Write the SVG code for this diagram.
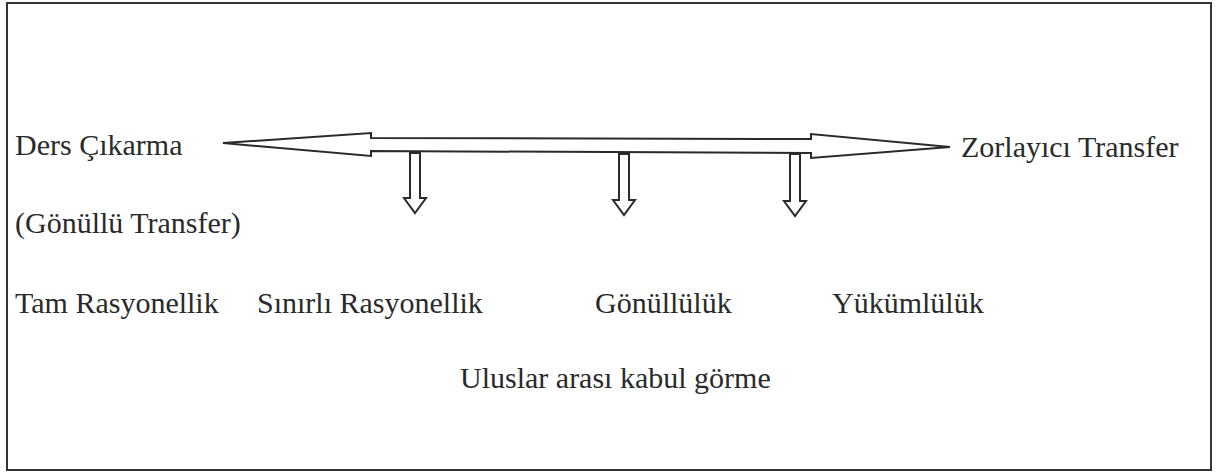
<svg xmlns="http://www.w3.org/2000/svg" width="1230" height="474" viewBox="0 0 1230 474">
  <style>
    .lbl { font-family: "Liberation Serif", "Times New Roman", Tinos, "DejaVu Serif", serif; font-size: 30px; fill: #2a2a2a; }
    .shape { fill: #ffffff; stroke: #2a2a2a; stroke-width: 2; stroke-linejoin: miter; }
  </style>
  <rect x="0" y="0" width="1230" height="474" fill="#ffffff"/>
  <!-- outer frame -->
  <rect x="7" y="3" width="1204" height="467" fill="none" stroke="#333333" stroke-width="2"/>

  <g id="connectors">
    <!-- double-headed spectrum arrow -->
    <polygon class="shape" points="223,143 371,133 371,138 811,139 811,134 950,147 811,158 811,153 371,151 371,156"/>
    <!-- hollow down arrows -->
    <polygon class="shape" points="410,153 420,153 420,198 426,198 415,213 404,198 410,198"/>
    <polygon class="shape" points="619,154 629,154 629,200 635,200 624,215 613,200 619,200"/>
    <polygon class="shape" points="790,154 800,154 800,201 806,201 795,216 784,201 790,201"/>
  </g>

  <g id="ders-cikarma"><text class="lbl" font-family="Liberation Serif, serif" x="15" y="155">Ders Çıkarma</text></g>
  <g id="zorlayici-transfer"><text class="lbl" font-family="Liberation Serif, serif" x="961" y="157">Zorlayıcı Transfer</text></g>
  <g id="gonullu-transfer"><text class="lbl" font-family="Liberation Serif, serif" x="15" y="233">(Gönüllü Transfer)</text></g>
  <g id="tam-rasyonellik"><text class="lbl" font-family="Liberation Serif, serif" x="15" y="313">Tam Rasyonellik</text></g>
  <g id="sinirli-rasyonellik"><text class="lbl" font-family="Liberation Serif, serif" x="257" y="313">Sınırlı Rasyonellik</text></g>
  <g id="gonulluluk"><text class="lbl" font-family="Liberation Serif, serif" x="595" y="313">Gönüllülük</text></g>
  <g id="yukumluluk"><text class="lbl" font-family="Liberation Serif, serif" x="832" y="313">Yükümlülük</text></g>
  <g id="uluslararasi"><text class="lbl" font-family="Liberation Serif, serif" x="460" y="388">Uluslar arası kabul görme</text></g>
</svg>
